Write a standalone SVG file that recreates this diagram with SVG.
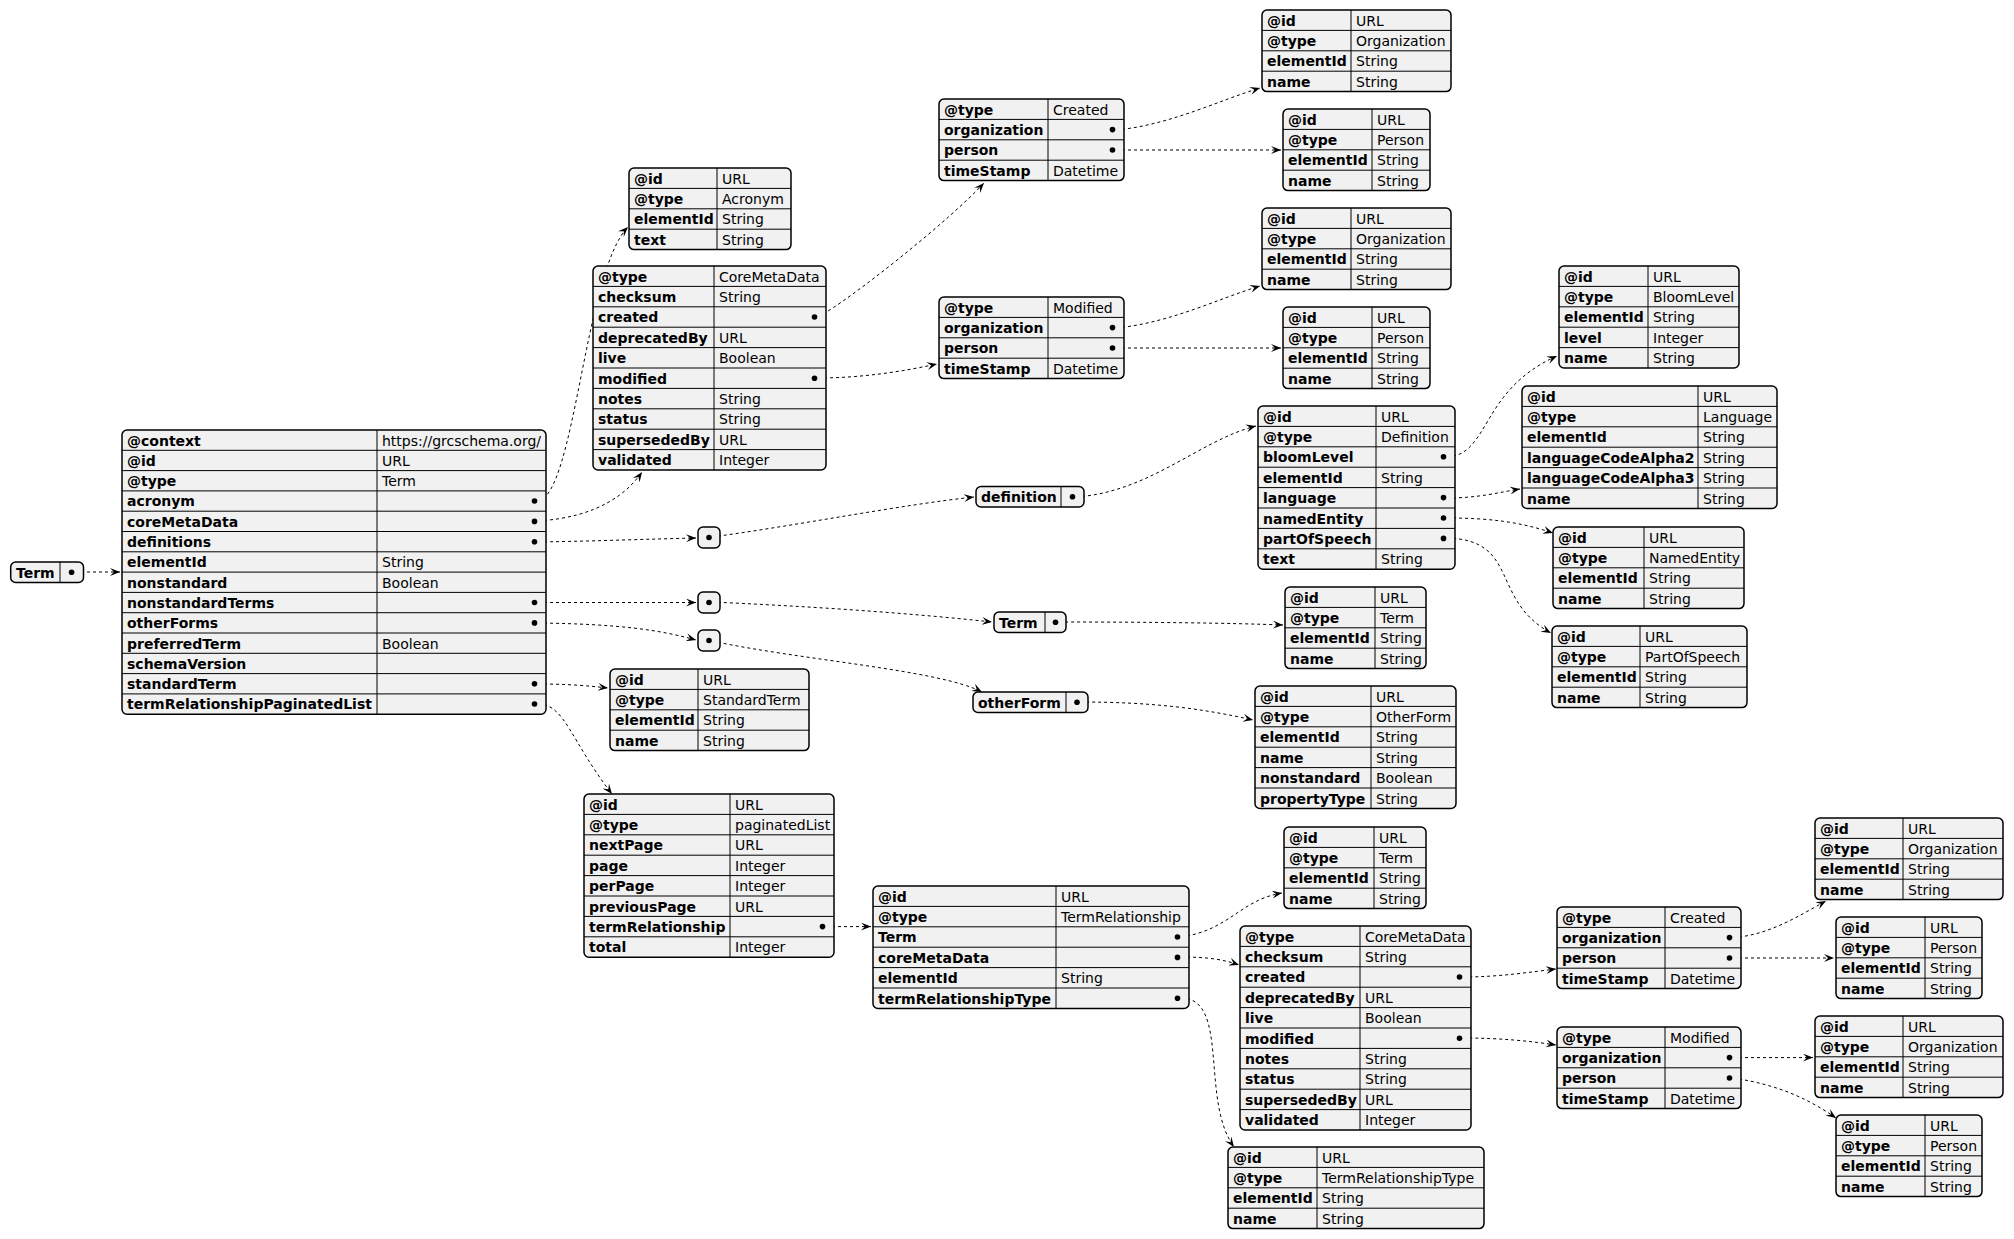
<svg xmlns="http://www.w3.org/2000/svg" width="2014" height="1239" viewBox="0 0 2014 1239">
<style>
.b{fill:#F1F1F1;stroke:#000;stroke-width:1.5}
.l{fill:none;stroke:#000;stroke-width:1}
.k{font-family:"DejaVu Sans",sans-serif;font-size:14px;font-weight:bold;fill:#000}
.v{font-family:"DejaVu Sans",sans-serif;font-size:14px;fill:#000}
.d{fill:#000}
.c{fill:none;stroke:#000;stroke-width:1;stroke-dasharray:3,3}
</style>
<defs>
<marker id="ah" markerWidth="10" markerHeight="8" refX="10" refY="4" orient="auto" markerUnits="userSpaceOnUse"><path d="M0,0 L10,4 L0,8 L4,4 Z" fill="#000"/></marker>
</defs>
<rect width="2014" height="1239" fill="#fff"/>
<g id="connectors" marker-end="url(#ah)">
<path class="c" d="M75,572 L120,572"/>
<path class="c" d="M538,501 C575,495 585,270 628,227"/>
<path class="c" d="M538,521 C600,517 628,492 642,472"/>
<path class="c" d="M538,542 C600,541 650,539 696,538"/>
<path class="c" d="M712,537 C800,525 900,505 974,497"/>
<path class="c" d="M1076,497 C1150,492 1200,440 1256,426"/>
<path class="c" d="M818,317 C850,300 950,220 984,183"/>
<path class="c" d="M818,378 C860,378 900,372 937,364"/>
<path class="c" d="M1116,130 C1170,125 1220,100 1260,88"/>
<path class="c" d="M1116,150 L1281,150"/>
<path class="c" d="M1116,328 C1170,323 1220,298 1260,286"/>
<path class="c" d="M1116,348 L1281,348"/>
<path class="c" d="M1447,457 C1490,455 1480,390 1557,356"/>
<path class="c" d="M1447,498 C1480,498 1500,492 1520,489"/>
<path class="c" d="M1447,518 C1490,518 1520,522 1553,533"/>
<path class="c" d="M1447,538 C1520,540 1490,600 1551,633"/>
<path class="c" d="M538,602.5 L696,602.5"/>
<path class="c" d="M712,602 C800,606 900,612 992,622"/>
<path class="c" d="M1059,622 C1150,622 1230,623 1283,625"/>
<path class="c" d="M538,623 C620,624 660,630 696,640"/>
<path class="c" d="M712,641 C800,660 940,670 982,692"/>
<path class="c" d="M1080,702 C1150,702 1200,708 1253,720"/>
<path class="c" d="M538,684 C570,684 590,686 608,688"/>
<path class="c" d="M538,704 C565,704 570,740 612,794"/>
<path class="c" d="M826,926.6 L871,926.6"/>
<path class="c" d="M1181,937 C1230,930 1240,900 1282,893"/>
<path class="c" d="M1181,957 C1210,957 1225,960 1239,965"/>
<path class="c" d="M1181,998 C1230,998 1200,1100 1234,1147"/>
<path class="c" d="M1463,977 C1500,977 1530,972 1556,969"/>
<path class="c" d="M1463,1038 C1500,1038 1530,1041 1556,1045"/>
<path class="c" d="M1733,937.6 C1770,935 1800,915 1826,901"/>
<path class="c" d="M1733,958 L1834,958"/>
<path class="c" d="M1733,1057.6 L1813,1057.6"/>
<path class="c" d="M1733,1078 C1780,1085 1810,1100 1836,1118"/>
</g>

<g id="n_term">
<rect class="b" x="10.7" y="562" width="72.8" height="20.4" rx="5"/>
<path class="l" d="M60,562 v20.4"/>
<text class="k" x="16" y="577.5">Term</text>
<circle class="d" cx="71.6" cy="572.2" r="2.8"/>
</g>

<g id="n_root">
<rect class="b" x="122" y="430" width="424" height="284.2" rx="5"/>
<path class="l" d="M122,450.3h424M122,470.6h424M122,490.9h424M122,511.2h424M122,531.5h424M122,551.8h424M122,572.1h424M122,592.4h424M122,612.7h424M122,633h424M122,653.3h424M122,673.6h424M122,693.9h424M377,430v284.2"/>
<text class="k" x="127" y="445.5">@context</text><text class="v" x="382" y="445.5">https://grcschema.org/</text>
<text class="k" x="127" y="465.8">@id</text><text class="v" x="382" y="465.8">URL</text>
<text class="k" x="127" y="486.1">@type</text><text class="v" x="382" y="486.1">Term</text>
<text class="k" x="127" y="506.4">acronym</text>
<text class="k" x="127" y="526.7">coreMetaData</text>
<text class="k" x="127" y="547">definitions</text>
<text class="k" x="127" y="567.3">elementId</text><text class="v" x="382" y="567.3">String</text>
<text class="k" x="127" y="587.6">nonstandard</text><text class="v" x="382" y="587.6">Boolean</text>
<text class="k" x="127" y="607.9">nonstandardTerms</text>
<text class="k" x="127" y="628.2">otherForms</text>
<text class="k" x="127" y="648.5">preferredTerm</text><text class="v" x="382" y="648.5">Boolean</text>
<text class="k" x="127" y="668.8">schemaVersion</text>
<text class="k" x="127" y="689.1">standardTerm</text>
<text class="k" x="127" y="709.4">termRelationshipPaginatedList</text>
<circle class="d" cx="534.5" cy="501" r="2.8"/><circle class="d" cx="534.5" cy="521.4" r="2.8"/><circle class="d" cx="534.5" cy="541.7" r="2.8"/><circle class="d" cx="534.5" cy="602.5" r="2.8"/><circle class="d" cx="534.5" cy="622.9" r="2.8"/><circle class="d" cx="534.5" cy="683.8" r="2.8"/><circle class="d" cx="534.5" cy="704" r="2.8"/>
</g>

<g id="n_acronym">
<rect class="b" x="629" y="168" width="162" height="81.6" rx="5"/>
<path class="l" d="M629,188.4h162M629,208.8h162M629,229.2h162M717,168v81.6"/>
<text class="k" x="634" y="183.5">@id</text><text class="v" x="722" y="183.5">URL</text>
<text class="k" x="634" y="203.9">@type</text><text class="v" x="722" y="203.9">Acronym</text>
<text class="k" x="634" y="224.3">elementId</text><text class="v" x="722" y="224.3">String</text>
<text class="k" x="634" y="244.7">text</text><text class="v" x="722" y="244.7">String</text>
</g>

<g id="n_cmd1">
<rect class="b" x="593" y="266" width="233" height="204" rx="5"/>
<path class="l" d="M593,286.4h233M593,306.8h233M593,327.2h233M593,347.6h233M593,368h233M593,388.4h233M593,408.8h233M593,429.2h233M593,449.6h233M714,266v204"/>
<text class="k" x="598" y="281.5">@type</text><text class="v" x="719" y="281.5">CoreMetaData</text>
<text class="k" x="598" y="301.9">checksum</text><text class="v" x="719" y="301.9">String</text>
<text class="k" x="598" y="322.3">created</text>
<text class="k" x="598" y="342.7">deprecatedBy</text><text class="v" x="719" y="342.7">URL</text>
<text class="k" x="598" y="363.1">live</text><text class="v" x="719" y="363.1">Boolean</text>
<text class="k" x="598" y="383.5">modified</text>
<text class="k" x="598" y="403.9">notes</text><text class="v" x="719" y="403.9">String</text>
<text class="k" x="598" y="424.3">status</text><text class="v" x="719" y="424.3">String</text>
<text class="k" x="598" y="444.7">supersededBy</text><text class="v" x="719" y="444.7">URL</text>
<text class="k" x="598" y="465.1">validated</text><text class="v" x="719" y="465.1">Integer</text>
<circle class="d" cx="814.5" cy="317" r="2.8"/><circle class="d" cx="814.5" cy="378.2" r="2.8"/>
</g>

<g id="n_created1">
<rect class="b" x="939" y="99" width="185" height="81.6" rx="5"/>
<path class="l" d="M939,119.4h185M939,139.8h185M939,160.2h185M1048,99v81.6"/>
<text class="k" x="944" y="114.5">@type</text><text class="v" x="1053" y="114.5">Created</text>
<text class="k" x="944" y="134.9">organization</text>
<text class="k" x="944" y="155.3">person</text>
<text class="k" x="944" y="175.7">timeStamp</text><text class="v" x="1053" y="175.7">Datetime</text>
<circle class="d" cx="1112.5" cy="129.6" r="2.8"/><circle class="d" cx="1112.5" cy="150" r="2.8"/>
</g>

<g id="n_modified1">
<rect class="b" x="939" y="297" width="185" height="81.6" rx="5"/>
<path class="l" d="M939,317.4h185M939,337.8h185M939,358.2h185M1048,297v81.6"/>
<text class="k" x="944" y="312.5">@type</text><text class="v" x="1053" y="312.5">Modified</text>
<text class="k" x="944" y="332.9">organization</text>
<text class="k" x="944" y="353.3">person</text>
<text class="k" x="944" y="373.7">timeStamp</text><text class="v" x="1053" y="373.7">Datetime</text>
<circle class="d" cx="1112.5" cy="327.6" r="2.8"/><circle class="d" cx="1112.5" cy="348" r="2.8"/>
</g>

<g id="n_org1">
<rect class="b" x="1262" y="10" width="189" height="81.6" rx="5"/>
<path class="l" d="M1262,30.4h189M1262,50.8h189M1262,71.2h189M1351,10v81.6"/>
<text class="k" x="1267" y="25.5">@id</text><text class="v" x="1356" y="25.5">URL</text>
<text class="k" x="1267" y="45.9">@type</text><text class="v" x="1356" y="45.9">Organization</text>
<text class="k" x="1267" y="66.3">elementId</text><text class="v" x="1356" y="66.3">String</text>
<text class="k" x="1267" y="86.7">name</text><text class="v" x="1356" y="86.7">String</text>
</g>

<g id="n_person1">
<rect class="b" x="1283" y="109" width="147" height="81.6" rx="5"/>
<path class="l" d="M1283,129.4h147M1283,149.8h147M1283,170.2h147M1372,109v81.6"/>
<text class="k" x="1288" y="124.5">@id</text><text class="v" x="1377" y="124.5">URL</text>
<text class="k" x="1288" y="144.9">@type</text><text class="v" x="1377" y="144.9">Person</text>
<text class="k" x="1288" y="165.3">elementId</text><text class="v" x="1377" y="165.3">String</text>
<text class="k" x="1288" y="185.7">name</text><text class="v" x="1377" y="185.7">String</text>
</g>

<g id="n_org2">
<rect class="b" x="1262" y="208" width="189" height="81.6" rx="5"/>
<path class="l" d="M1262,228.4h189M1262,248.8h189M1262,269.2h189M1351,208v81.6"/>
<text class="k" x="1267" y="223.5">@id</text><text class="v" x="1356" y="223.5">URL</text>
<text class="k" x="1267" y="243.9">@type</text><text class="v" x="1356" y="243.9">Organization</text>
<text class="k" x="1267" y="264.3">elementId</text><text class="v" x="1356" y="264.3">String</text>
<text class="k" x="1267" y="284.7">name</text><text class="v" x="1356" y="284.7">String</text>
</g>

<g id="n_person2">
<rect class="b" x="1283" y="307" width="147" height="81.6" rx="5"/>
<path class="l" d="M1283,327.4h147M1283,347.8h147M1283,368.2h147M1372,307v81.6"/>
<text class="k" x="1288" y="322.5">@id</text><text class="v" x="1377" y="322.5">URL</text>
<text class="k" x="1288" y="342.9">@type</text><text class="v" x="1377" y="342.9">Person</text>
<text class="k" x="1288" y="363.3">elementId</text><text class="v" x="1377" y="363.3">String</text>
<text class="k" x="1288" y="383.7">name</text><text class="v" x="1377" y="383.7">String</text>
</g>

<g id="n_arr1">
<rect class="b" x="698" y="527" width="22" height="21" rx="5"/>
<circle class="d" cx="709" cy="537.5" r="2.8"/>
</g>
<g id="n_arr2">
<rect class="b" x="698" y="592" width="22" height="21" rx="5"/>
<circle class="d" cx="709" cy="602.5" r="2.8"/>
</g>
<g id="n_arr3">
<rect class="b" x="698" y="630" width="22" height="21" rx="5"/>
<circle class="d" cx="709" cy="640.5" r="2.8"/>
</g>

<g id="n_definition_key">
<rect class="b" x="976" y="486.6" width="108" height="20.4" rx="5"/>
<path class="l" d="M1061,486.6v20.4"/>
<text class="k" x="981" y="502">definition</text>
<circle class="d" cx="1072.5" cy="496.8" r="2.8"/>
</g>

<g id="n_definition">
<rect class="b" x="1258" y="406" width="197" height="163.2" rx="5"/>
<path class="l" d="M1258,426.4h197M1258,446.8h197M1258,467.2h197M1258,487.6h197M1258,508h197M1258,528.4h197M1258,548.8h197M1376,406v163.2"/>
<text class="k" x="1263" y="421.5">@id</text><text class="v" x="1381" y="421.5">URL</text>
<text class="k" x="1263" y="441.9">@type</text><text class="v" x="1381" y="441.9">Definition</text>
<text class="k" x="1263" y="462.3">bloomLevel</text>
<text class="k" x="1263" y="482.7">elementId</text><text class="v" x="1381" y="482.7">String</text>
<text class="k" x="1263" y="503.1">language</text>
<text class="k" x="1263" y="523.5">namedEntity</text>
<text class="k" x="1263" y="543.9">partOfSpeech</text>
<text class="k" x="1263" y="564.3">text</text><text class="v" x="1381" y="564.3">String</text>
<circle class="d" cx="1443.5" cy="456.8" r="2.8"/><circle class="d" cx="1443.5" cy="497.6" r="2.8"/><circle class="d" cx="1443.5" cy="518" r="2.8"/><circle class="d" cx="1443.5" cy="538.4" r="2.8"/>
</g>

<g id="n_bloom">
<rect class="b" x="1559" y="266" width="180" height="102" rx="5"/>
<path class="l" d="M1559,286.4h180M1559,306.8h180M1559,327.2h180M1559,347.6h180M1648,266v102"/>
<text class="k" x="1564" y="281.5">@id</text><text class="v" x="1653" y="281.5">URL</text>
<text class="k" x="1564" y="301.9">@type</text><text class="v" x="1653" y="301.9">BloomLevel</text>
<text class="k" x="1564" y="322.3">elementId</text><text class="v" x="1653" y="322.3">String</text>
<text class="k" x="1564" y="342.7">level</text><text class="v" x="1653" y="342.7">Integer</text>
<text class="k" x="1564" y="363.1">name</text><text class="v" x="1653" y="363.1">String</text>
</g>

<g id="n_language">
<rect class="b" x="1522" y="386" width="255" height="122.4" rx="5"/>
<path class="l" d="M1522,406.4h255M1522,426.8h255M1522,447.2h255M1522,467.6h255M1522,488h255M1698,386v122.4"/>
<text class="k" x="1527" y="401.5">@id</text><text class="v" x="1703" y="401.5">URL</text>
<text class="k" x="1527" y="421.9">@type</text><text class="v" x="1703" y="421.9">Language</text>
<text class="k" x="1527" y="442.3">elementId</text><text class="v" x="1703" y="442.3">String</text>
<text class="k" x="1527" y="462.7">languageCodeAlpha2</text><text class="v" x="1703" y="462.7">String</text>
<text class="k" x="1527" y="483.1">languageCodeAlpha3</text><text class="v" x="1703" y="483.1">String</text>
<text class="k" x="1527" y="503.5">name</text><text class="v" x="1703" y="503.5">String</text>
</g>

<g id="n_named">
<rect class="b" x="1553" y="527" width="191" height="81.6" rx="5"/>
<path class="l" d="M1553,547.4h191M1553,567.8h191M1553,588.2h191M1644,527v81.6"/>
<text class="k" x="1558" y="542.5">@id</text><text class="v" x="1649" y="542.5">URL</text>
<text class="k" x="1558" y="562.9">@type</text><text class="v" x="1649" y="562.9">NamedEntity</text>
<text class="k" x="1558" y="583.3">elementId</text><text class="v" x="1649" y="583.3">String</text>
<text class="k" x="1558" y="603.7">name</text><text class="v" x="1649" y="603.7">String</text>
</g>

<g id="n_pos">
<rect class="b" x="1552" y="626" width="195" height="81.6" rx="5"/>
<path class="l" d="M1552,646.4h195M1552,666.8h195M1552,687.2h195M1640,626v81.6"/>
<text class="k" x="1557" y="641.5">@id</text><text class="v" x="1645" y="641.5">URL</text>
<text class="k" x="1557" y="661.9">@type</text><text class="v" x="1645" y="661.9">PartOfSpeech</text>
<text class="k" x="1557" y="682.3">elementId</text><text class="v" x="1645" y="682.3">String</text>
<text class="k" x="1557" y="702.7">name</text><text class="v" x="1645" y="702.7">String</text>
</g>

<g id="n_term_key">
<rect class="b" x="994" y="612" width="72" height="20.4" rx="5"/>
<path class="l" d="M1045,612v20.4"/>
<text class="k" x="999" y="627.5">Term</text>
<circle class="d" cx="1055.5" cy="622.2" r="2.8"/>
</g>

<g id="n_term_tbl">
<rect class="b" x="1285" y="587" width="141" height="81.6" rx="5"/>
<path class="l" d="M1285,607.4h141M1285,627.8h141M1285,648.2h141M1375,587v81.6"/>
<text class="k" x="1290" y="602.5">@id</text><text class="v" x="1380" y="602.5">URL</text>
<text class="k" x="1290" y="622.9">@type</text><text class="v" x="1380" y="622.9">Term</text>
<text class="k" x="1290" y="643.3">elementId</text><text class="v" x="1380" y="643.3">String</text>
<text class="k" x="1290" y="663.7">name</text><text class="v" x="1380" y="663.7">String</text>
</g>

<g id="n_otherform_key">
<rect class="b" x="973" y="692" width="115" height="20.4" rx="5"/>
<path class="l" d="M1066,692v20.4"/>
<text class="k" x="978" y="707.5">otherForm</text>
<circle class="d" cx="1077" cy="702.2" r="2.8"/>
</g>

<g id="n_otherform">
<rect class="b" x="1255" y="686" width="201" height="122.4" rx="5"/>
<path class="l" d="M1255,706.4h201M1255,726.8h201M1255,747.2h201M1255,767.6h201M1255,788h201M1371,686v122.4"/>
<text class="k" x="1260" y="701.5">@id</text><text class="v" x="1376" y="701.5">URL</text>
<text class="k" x="1260" y="721.9">@type</text><text class="v" x="1376" y="721.9">OtherForm</text>
<text class="k" x="1260" y="742.3">elementId</text><text class="v" x="1376" y="742.3">String</text>
<text class="k" x="1260" y="762.7">name</text><text class="v" x="1376" y="762.7">String</text>
<text class="k" x="1260" y="783.1">nonstandard</text><text class="v" x="1376" y="783.1">Boolean</text>
<text class="k" x="1260" y="803.5">propertyType</text><text class="v" x="1376" y="803.5">String</text>
</g>

<g id="n_standard">
<rect class="b" x="610" y="669" width="199" height="81.6" rx="5"/>
<path class="l" d="M610,689.4h199M610,709.8h199M610,730.2h199M698,669v81.6"/>
<text class="k" x="615" y="684.5">@id</text><text class="v" x="703" y="684.5">URL</text>
<text class="k" x="615" y="704.9">@type</text><text class="v" x="703" y="704.9">StandardTerm</text>
<text class="k" x="615" y="725.3">elementId</text><text class="v" x="703" y="725.3">String</text>
<text class="k" x="615" y="745.7">name</text><text class="v" x="703" y="745.7">String</text>
</g>

<g id="n_paginated">
<rect class="b" x="584" y="794" width="250" height="163.2" rx="5"/>
<path class="l" d="M584,814.4h250M584,834.8h250M584,855.2h250M584,875.6h250M584,896h250M584,916.4h250M584,936.8h250M730,794v163.2"/>
<text class="k" x="589" y="809.5">@id</text><text class="v" x="735" y="809.5">URL</text>
<text class="k" x="589" y="829.9">@type</text><text class="v" x="735" y="829.9">paginatedList</text>
<text class="k" x="589" y="850.3">nextPage</text><text class="v" x="735" y="850.3">URL</text>
<text class="k" x="589" y="870.7">page</text><text class="v" x="735" y="870.7">Integer</text>
<text class="k" x="589" y="891.1">perPage</text><text class="v" x="735" y="891.1">Integer</text>
<text class="k" x="589" y="911.5">previousPage</text><text class="v" x="735" y="911.5">URL</text>
<text class="k" x="589" y="931.9">termRelationship</text>
<text class="k" x="589" y="952.3">total</text><text class="v" x="735" y="952.3">Integer</text>
<circle class="d" cx="822.5" cy="926.6" r="2.8"/>
</g>

<g id="n_termrel">
<rect class="b" x="873" y="886" width="316" height="122.4" rx="5"/>
<path class="l" d="M873,906.4h316M873,926.8h316M873,947.2h316M873,967.6h316M873,988h316M1056,886v122.4"/>
<text class="k" x="878" y="901.5">@id</text><text class="v" x="1061" y="901.5">URL</text>
<text class="k" x="878" y="921.9">@type</text><text class="v" x="1061" y="921.9">TermRelationship</text>
<text class="k" x="878" y="942.3">Term</text>
<text class="k" x="878" y="962.7">coreMetaData</text>
<text class="k" x="878" y="983.1">elementId</text><text class="v" x="1061" y="983.1">String</text>
<text class="k" x="878" y="1003.5">termRelationshipType</text>
<circle class="d" cx="1177.5" cy="937" r="2.8"/><circle class="d" cx="1177.5" cy="957.4" r="2.8"/><circle class="d" cx="1177.5" cy="998.2" r="2.8"/>
</g>

<g id="n_term2">
<rect class="b" x="1284" y="827" width="142" height="81.6" rx="5"/>
<path class="l" d="M1284,847.4h142M1284,867.8h142M1284,888.2h142M1374,827v81.6"/>
<text class="k" x="1289" y="842.5">@id</text><text class="v" x="1379" y="842.5">URL</text>
<text class="k" x="1289" y="862.9">@type</text><text class="v" x="1379" y="862.9">Term</text>
<text class="k" x="1289" y="883.3">elementId</text><text class="v" x="1379" y="883.3">String</text>
<text class="k" x="1289" y="903.7">name</text><text class="v" x="1379" y="903.7">String</text>
</g>

<g id="n_cmd2">
<rect class="b" x="1240" y="926" width="231" height="204" rx="5"/>
<path class="l" d="M1240,946.4h231M1240,966.8h231M1240,987.2h231M1240,1007.6h231M1240,1028h231M1240,1048.4h231M1240,1068.8h231M1240,1089.2h231M1240,1109.6h231M1360,926v204"/>
<text class="k" x="1245" y="941.5">@type</text><text class="v" x="1365" y="941.5">CoreMetaData</text>
<text class="k" x="1245" y="961.9">checksum</text><text class="v" x="1365" y="961.9">String</text>
<text class="k" x="1245" y="982.3">created</text>
<text class="k" x="1245" y="1002.7">deprecatedBy</text><text class="v" x="1365" y="1002.7">URL</text>
<text class="k" x="1245" y="1023.1">live</text><text class="v" x="1365" y="1023.1">Boolean</text>
<text class="k" x="1245" y="1043.5">modified</text>
<text class="k" x="1245" y="1063.9">notes</text><text class="v" x="1365" y="1063.9">String</text>
<text class="k" x="1245" y="1084.3">status</text><text class="v" x="1365" y="1084.3">String</text>
<text class="k" x="1245" y="1104.7">supersededBy</text><text class="v" x="1365" y="1104.7">URL</text>
<text class="k" x="1245" y="1125.1">validated</text><text class="v" x="1365" y="1125.1">Integer</text>
<circle class="d" cx="1459.5" cy="977" r="2.8"/><circle class="d" cx="1459.5" cy="1038.2" r="2.8"/>
</g>

<g id="n_trt">
<rect class="b" x="1228" y="1147" width="256" height="81.6" rx="5"/>
<path class="l" d="M1228,1167.4h256M1228,1187.8h256M1228,1208.2h256M1317,1147v81.6"/>
<text class="k" x="1233" y="1162.5">@id</text><text class="v" x="1322" y="1162.5">URL</text>
<text class="k" x="1233" y="1182.9">@type</text><text class="v" x="1322" y="1182.9">TermRelationshipType</text>
<text class="k" x="1233" y="1203.3">elementId</text><text class="v" x="1322" y="1203.3">String</text>
<text class="k" x="1233" y="1223.7">name</text><text class="v" x="1322" y="1223.7">String</text>
</g>

<g id="n_created2">
<rect class="b" x="1557" y="907" width="184" height="81.6" rx="5"/>
<path class="l" d="M1557,927.4h184M1557,947.8h184M1557,968.2h184M1665,907v81.6"/>
<text class="k" x="1562" y="922.5">@type</text><text class="v" x="1670" y="922.5">Created</text>
<text class="k" x="1562" y="942.9">organization</text>
<text class="k" x="1562" y="963.3">person</text>
<text class="k" x="1562" y="983.7">timeStamp</text><text class="v" x="1670" y="983.7">Datetime</text>
<circle class="d" cx="1729.5" cy="937.6" r="2.8"/><circle class="d" cx="1729.5" cy="958" r="2.8"/>
</g>

<g id="n_modified2">
<rect class="b" x="1557" y="1027" width="184" height="81.6" rx="5"/>
<path class="l" d="M1557,1047.4h184M1557,1067.8h184M1557,1088.2h184M1665,1027v81.6"/>
<text class="k" x="1562" y="1042.5">@type</text><text class="v" x="1670" y="1042.5">Modified</text>
<text class="k" x="1562" y="1062.9">organization</text>
<text class="k" x="1562" y="1083.3">person</text>
<text class="k" x="1562" y="1103.7">timeStamp</text><text class="v" x="1670" y="1103.7">Datetime</text>
<circle class="d" cx="1729.5" cy="1057.6" r="2.8"/><circle class="d" cx="1729.5" cy="1078" r="2.8"/>
</g>

<g id="n_org3">
<rect class="b" x="1815" y="818" width="188" height="81.6" rx="5"/>
<path class="l" d="M1815,838.4h188M1815,858.8h188M1815,879.2h188M1903,818v81.6"/>
<text class="k" x="1820" y="833.5">@id</text><text class="v" x="1908" y="833.5">URL</text>
<text class="k" x="1820" y="853.9">@type</text><text class="v" x="1908" y="853.9">Organization</text>
<text class="k" x="1820" y="874.3">elementId</text><text class="v" x="1908" y="874.3">String</text>
<text class="k" x="1820" y="894.7">name</text><text class="v" x="1908" y="894.7">String</text>
</g>

<g id="n_person3">
<rect class="b" x="1836" y="917" width="146" height="81.6" rx="5"/>
<path class="l" d="M1836,937.4h146M1836,957.8h146M1836,978.2h146M1925,917v81.6"/>
<text class="k" x="1841" y="932.5">@id</text><text class="v" x="1930" y="932.5">URL</text>
<text class="k" x="1841" y="952.9">@type</text><text class="v" x="1930" y="952.9">Person</text>
<text class="k" x="1841" y="973.3">elementId</text><text class="v" x="1930" y="973.3">String</text>
<text class="k" x="1841" y="993.7">name</text><text class="v" x="1930" y="993.7">String</text>
</g>

<g id="n_org4">
<rect class="b" x="1815" y="1016" width="188" height="81.6" rx="5"/>
<path class="l" d="M1815,1036.4h188M1815,1056.8h188M1815,1077.2h188M1903,1016v81.6"/>
<text class="k" x="1820" y="1031.5">@id</text><text class="v" x="1908" y="1031.5">URL</text>
<text class="k" x="1820" y="1051.9">@type</text><text class="v" x="1908" y="1051.9">Organization</text>
<text class="k" x="1820" y="1072.3">elementId</text><text class="v" x="1908" y="1072.3">String</text>
<text class="k" x="1820" y="1092.7">name</text><text class="v" x="1908" y="1092.7">String</text>
</g>

<g id="n_person4">
<rect class="b" x="1836" y="1115" width="146" height="81.6" rx="5"/>
<path class="l" d="M1836,1135.4h146M1836,1155.8h146M1836,1176.2h146M1925,1115v81.6"/>
<text class="k" x="1841" y="1130.5">@id</text><text class="v" x="1930" y="1130.5">URL</text>
<text class="k" x="1841" y="1150.9">@type</text><text class="v" x="1930" y="1150.9">Person</text>
<text class="k" x="1841" y="1171.3">elementId</text><text class="v" x="1930" y="1171.3">String</text>
<text class="k" x="1841" y="1191.7">name</text><text class="v" x="1930" y="1191.7">String</text>
</g>
</svg>
